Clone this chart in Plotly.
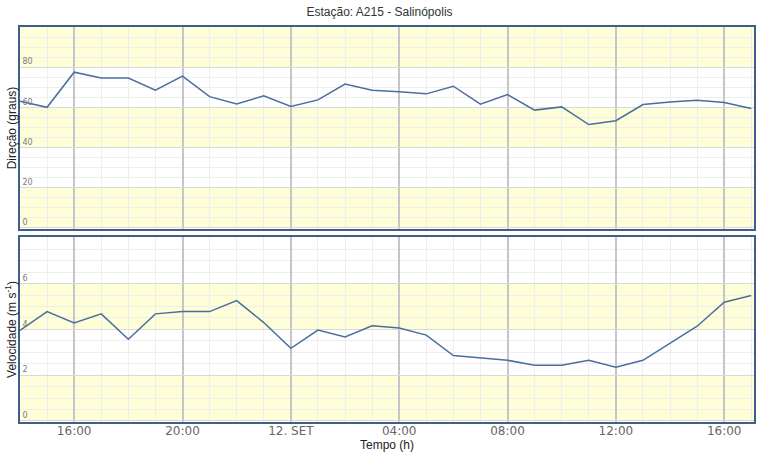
import pandas as pd
import plotly.graph_objects as go
from plotly.subplots import make_subplots

# ---- data ----
times = pd.date_range("2023-09-11 14:00", "2023-09-12 17:00", freq="h")
direcao = [63, 60, 77.5, 74.6, 74.6, 68.5, 75.5, 65.3, 61.6, 65.7, 60.4, 63.7,
           71.6, 68.5, 67.7, 66.7, 70.5, 61.6, 66.3, 58.6, 60.2, 51.4, 53.3,
           61.4, 62.7, 63.5, 62.4, 59.4]
velocidade = [3.96, 4.78, 4.28, 4.68, 3.57, 4.68, 4.78, 4.78, 5.26, 4.3, 3.17,
              3.97, 3.67, 4.16, 4.06, 3.75, 2.86, 2.75, 2.65, 2.43, 2.43, 2.65,
              2.35, 2.65, 3.4, 4.14, 5.19, 5.48]
x_tickvals = ["2023-09-11 16:00", "2023-09-11 20:00", "2023-09-12 00:00",
              "2023-09-12 04:00", "2023-09-12 08:00", "2023-09-12 12:00",
              "2023-09-12 16:00"]
x_ticktext = ["16:00", "20:00", "12. SET", "04:00", "08:00", "12:00", "16:00"]
dir_ticks = [0, 20, 40, 60, 80]
vel_ticks = [0, 2, 4, 6]
dir_bands = [(0, 20), (40, 60), (80, 100)]
vel_bands = [(0, 2), (4, 6)]
titulo = "Estação: A215 - Salinópolis"

# ---- style ----
LINE = "#4a6f9c"
BORDER = "#3f5f86"
BAND = "#fefed8"
GRID = "#d9d9d9"
MINOR = "#eeeeee"
MAJX = "#c6c6c6"

fig = make_subplots(rows=2, cols=1, shared_xaxes=True, vertical_spacing=0.0205,
                    row_heights=[0.522, 0.478])

fig.add_trace(go.Scatter(x=times, y=direcao, mode="lines",
                         line=dict(color=LINE, width=1.5), showlegend=False),
              row=1, col=1)
fig.add_trace(go.Scatter(x=times, y=velocidade, mode="lines",
                         line=dict(color=LINE, width=1.5), showlegend=False),
              row=2, col=1)

for lo, hi in dir_bands:
    fig.add_shape(type="rect", xref="x domain", yref="y", x0=0, x1=1, y0=lo, y1=hi,
                  fillcolor=BAND, line_width=0, layer="below")
for lo, hi in vel_bands:
    fig.add_shape(type="rect", xref="x2 domain", yref="y2", x0=0, x1=1, y0=lo, y1=hi,
                  fillcolor=BAND, line_width=0, layer="below")

xrange = ["2023-09-11 14:00", "2023-09-12 17:06"]
common_x = dict(range=xrange, tickvals=x_tickvals, ticktext=x_ticktext,
                showgrid=True, gridcolor=MAJX, gridwidth=2,
                minor=dict(dtick=3600000, showgrid=True, gridcolor=MINOR, gridwidth=1,
                           ticks=""),
                showline=True, linecolor=BORDER, linewidth=2, mirror=True,
                ticks="", zeroline=False, automargin=False)
fig.update_xaxes(**common_x)
fig.update_xaxes(showticklabels=False, row=1, col=1)
fig.update_xaxes(showticklabels=True, row=2, col=1, ticklabelstandoff=-3,
                 tickfont=dict(family="DejaVu Sans", size=12, color="#666666"),
                 title=dict(text="Tempo (h)", standoff=1,
                            font=dict(family="Liberation Sans", size=12, color="#222222")))

common_y = dict(showgrid=True, gridcolor=GRID, gridwidth=1, zeroline=False,
                showline=True, linecolor=BORDER, linewidth=2, mirror=True,
                ticks="", ticklabelposition="inside top",
                tickfont=dict(family="DejaVu Sans", size=8, color="#7a7a7a"),
                automargin=False)
fig.update_yaxes(**common_y)
fig.update_yaxes(range=[-0.6, 100], tickvals=dir_ticks,
                 minor=dict(dtick=5, showgrid=True, gridcolor=MINOR, gridwidth=1),
                 title=dict(text="Direção (graus)", standoff=3,
                            font=dict(family="Liberation Sans", size=12, color="#222222")),
                 row=1, col=1)
fig.update_yaxes(range=[-0.05, 8.04], tickvals=vel_ticks,
                 minor=dict(dtick=0.5, showgrid=True, gridcolor=MINOR, gridwidth=1),
                 title=dict(text="Velocidade (m s<sup>-1</sup>)", standoff=3,
                            font=dict(family="Liberation Sans", size=12, color="#222222")),
                 row=2, col=1)

fig.update_layout(
    width=759, height=459,
    margin=dict(l=20, r=5, t=27, b=37),
    paper_bgcolor="white", plot_bgcolor="white",
    title=dict(text=titulo, x=0.5, xanchor="center", y=0.975, yanchor="middle",
               font=dict(family="Liberation Sans", size=12, color="#333333")),
    showlegend=False,
)

fig.write_html("out.html", config={"displayModeBar": False},
               post_script="document.body.style.margin='0px';")
